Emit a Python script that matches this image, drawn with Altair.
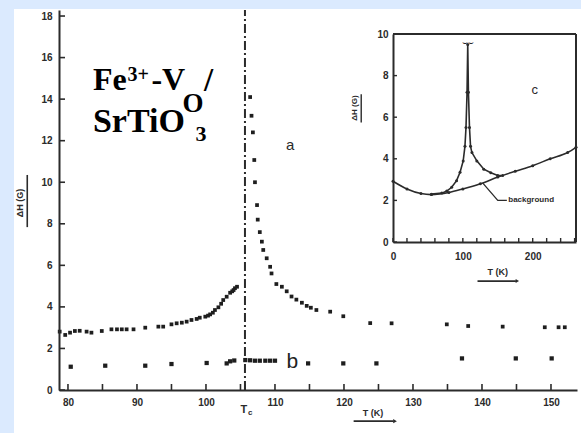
import altair as alt
import pandas as pd

# ---------------- data ----------------
TC = 105.65
# series a (main)
a_T = [78.8, 79.6, 80.3, 81.0, 81.7, 82.7, 83.4, 84.9, 86.3, 87.1, 87.8, 88.5, 89.5, 91.2,
       93.1, 93.8, 95.0, 95.75, 96.5, 97.2, 97.9, 98.65, 99.1, 99.9, 100.3, 100.6, 101.0,
       101.3, 101.8, 102.2, 102.5, 103.0, 103.5, 103.8, 104.0, 104.2, 104.5,
       106.4, 106.6, 106.8, 107.0, 107.1, 107.4, 107.5, 107.8, 108.1, 108.3, 108.8, 109.3,
       109.5, 110.2, 111.0, 111.7, 112.4, 113.1, 113.9, 114.6, 115.2, 116.0, 118.0, 119.9,
       123.8, 126.9, 134.9, 138.0, 143.0, 149.1, 151.1, 152.0]
a_G = [2.81, 2.65, 2.76, 2.84, 2.85, 2.81, 2.76, 2.84, 2.92, 2.92, 2.92, 2.92, 2.92, 3.0,
       3.05, 3.05, 3.16, 3.21, 3.24, 3.29, 3.37, 3.42, 3.48, 3.53, 3.58, 3.64, 3.72,
       3.85, 3.98, 4.15, 4.33, 4.49, 4.68, 4.75, 4.81, 4.9, 4.97,
       14.1, 13.2, 12.4, 11.07, 10.0, 8.9, 8.2, 7.6, 7.14, 6.74, 6.34, 5.93,
       5.61, 5.1, 4.97, 4.75, 4.5, 4.35, 4.2, 4.05, 3.96, 3.85, 3.77, 3.55,
       3.22, 3.21, 3.16, 3.08, 3.05, 3.02, 3.02, 3.02]
# series b (main)
b_T = [80.4, 85.4, 91.2, 95.0, 100.1, 103.0, 103.5, 104.1, 105.7, 106.4, 107.1, 107.8,
       108.6, 109.3, 110.0, 114.8, 119.9, 124.7, 137.1, 144.9, 150.1]
b_G = [1.12, 1.17, 1.17, 1.25, 1.30, 1.28, 1.38, 1.42, 1.44, 1.43, 1.41, 1.41,
       1.41, 1.41, 1.41, 1.28, 1.28, 1.28, 1.52, 1.52, 1.52]
# inset c: background and peak curve
bg_T = [0, 20, 40, 55, 80, 100, 125, 150, 175, 200, 225, 250, 262]
bg_G = [2.92, 2.55, 2.33, 2.28, 2.38, 2.55, 2.8, 3.12, 3.4, 3.67, 4.0, 4.3, 4.55]
pk_T = [55, 70, 77, 84, 91, 96, 100.5, 103, 104.5, 106, 107, 108, 109.5, 111, 113, 120,
        130, 140, 150, 157]
pk_G = [2.3, 2.35, 2.45, 2.63, 2.95, 3.35, 3.9, 4.6, 5.5, 7.2, 9.5, 7.2, 5.5, 4.6, 4.3, 3.9,
        3.5, 3.33, 3.2, 3.2]

# ticks / labels
main_xticks = list(range(80, 155, 5)) + [TC]
main_xlabels = [80, 90, 100, 110, 120, 130, 140, 150]
main_yticks = list(range(0, 19, 2))
in_xticks = list(range(0, 261, 20))
in_xlabels = [0, 100, 200]
in_yticks = [0, 2, 4, 6, 8, 10]

# ---------------- styling ----------------
FONT = "Liberation Sans"
SERIF = "Liberation Serif"
INK = "#2b2b2b"
W, H = 518, 380

xs = alt.Scale(domain=[78.7, 153.77], nice=False, zero=False)
ys = alt.Scale(domain=[0, 18.29], nice=False, zero=False)
ixs = alt.Scale(domain=[0, 262], range=[334, 517], nice=False, zero=False)
iys = alt.Scale(domain=[0, 10], range=[232, 24], nice=False, zero=False)


def ax(values, orient, pad, offset=0):
    return alt.Axis(values=values, orient=orient, offset=offset, domain=True,
                    domainColor=INK, domainWidth=2, ticks=False, tickSize=0,
                    labelPadding=pad, labelFont=FONT, labelFontSize=10,
                    labelFontWeight="bold", labelColor=INK, labelFlush=False,
                    labelOverlap=False, grid=False, title=None, format="d", zindex=2)


AX_X = ax(main_xlabels, "bottom", 7)
AX_Y = ax(main_yticks, "left", 7)
AX_IX = ax(in_xlabels, "bottom", 9, offset=-(H - 232))
AX_IY = ax(in_yticks, "left", 5, offset=-334)


def X(field="T"):
    return alt.X(f"{field}:Q", scale=xs, axis=AX_X)


def Y(field="G"):
    return alt.Y(f"{field}:Q", scale=ys, axis=AX_Y)


def IX(field="T"):
    return alt.X(f"{field}:Q", scale=ixs, axis=AX_IX)


def IY(field="G"):
    return alt.Y(f"{field}:Q", scale=iys, axis=AX_IY)


def txt(text, T, G, size, font=FONT, weight="bold", angle=0, align="left",
        baseline="alphabetic", color=INK, inset=False, dx=0, dy=0):
    d = pd.DataFrame({"T": [T], "G": [G], "s": [text]})
    m = alt.Chart(d).mark_text(font=font, fontSize=size, fontWeight=weight, angle=angle,
                               align=align, baseline=baseline, color=color, dx=dx, dy=dy)
    if inset:
        return m.encode(x=IX(), y=IY(), text="s:N")
    return m.encode(x=X(), y=Y(), text="s:N")


dfa = pd.DataFrame({"T": a_T, "G": a_G})
dfb = pd.DataFrame({"T": b_T, "G": b_G})
dfbg = pd.DataFrame({"T": bg_T, "G": bg_G})
dfpk = pd.DataFrame({"T": pk_T, "G": pk_G})

# ---------------- main panel ----------------
white = alt.Chart(pd.DataFrame({"k": [0]})).mark_rect(color="white").encode(
    x=alt.value(-45), x2=alt.value(W + 10), y=alt.value(-1), y2=alt.value(H + 50))

xt = alt.Chart(pd.DataFrame({"T": main_xticks})).mark_rule(color=INK, strokeWidth=1.6).encode(
    x=X(), y=alt.value(H), y2=alt.value(H - 6))
yt = alt.Chart(pd.DataFrame({"G": main_yticks})).mark_rule(color=INK, strokeWidth=1.6).encode(
    y=Y(), x=alt.value(0), x2=alt.value(6))

tc_line = alt.Chart(pd.DataFrame({"T": [TC], "G0": [0.0], "G1": [18.29]})).mark_rule(
    color=INK, strokeWidth=2, strokeDash=[9, 3, 2, 3]).encode(x=X(), y=Y("G0"), y2="G1:Q")

pts_a = alt.Chart(dfa).mark_point(shape="square", filled=True, size=14, color="#1e1e1e",
                                  opacity=1).encode(x=X(), y=Y())
pts_b = alt.Chart(dfb).mark_point(shape="square", filled=True, size=18, color="#1e1e1e",
                                  opacity=1).encode(x=X(), y=Y())

# title of y axis with its underline
ytitle = txt("ΔH (G)", 73.04, 9.0, 9, angle=270, align="center", baseline="middle")
yunder = alt.Chart(pd.DataFrame({"T": [74.1], "G0": [7.84], "G1": [10.35]})).mark_rule(
    color=INK, strokeWidth=1.6).encode(x=X(), y=Y("G0"), y2="G1:Q")

# x-axis title with arrow
xtitle = txt("T (K)", 124.2, -1.1, 9, align="center", baseline="middle")
xarrow = alt.Chart(pd.DataFrame({"T0": [121.4], "T1": [127.2], "G": [-1.5]})).mark_rule(
    color=INK, strokeWidth=1.8).encode(x=X("T0"), x2="T1:Q", y=Y())
xhead = alt.Chart(pd.DataFrame({"T": [127.4], "G": [-1.5]})).mark_point(
    shape="triangle-right", filled=True, size=18, color=INK, opacity=1).encode(x=X(), y=Y())

tc_T = txt("T", TC, -0.96, 11, align="center", baseline="middle", dx=-1)
tc_c = txt("c", TC, -1.12, 8, align="left", baseline="middle", dx=3)

lab_a = txt("a", 112.2, 11.8, 15, align="center", baseline="middle", weight="normal")
lab_b = txt("b", 112.5, 1.35, 21, align="center", baseline="middle", weight="normal",
            color="#222")

# Fe3+-VO / SrTiO3 label
title_parts = [
    txt("Fe", 83.62, 14.44, 32, font=SERIF, color="black"),
    txt("3+", 88.62, 14.86, 20, font=SERIF, color="black"),
    txt("-V", 92.1, 14.44, 32, font=SERIF, color="black"),
    txt("O", 96.6, 13.38, 27, font=SERIF, color="black"),
    txt("/", 99.7, 14.4, 33, font=SERIF, color="black"),
    txt("SrTiO", 83.62, 12.42, 34, font=SERIF, color="black"),
    txt("3", 98.5, 12.0, 22, font=SERIF, color="black"),
]

main = alt.layer(white, xt, yt, tc_line, pts_a, pts_b, ytitle, yunder, xtitle,
                 xarrow, xhead, tc_T, tc_c, lab_a, lab_b, *title_parts)

# ---------------- inset panel ----------------
ixt = alt.Chart(pd.DataFrame({"T": in_xticks})).mark_rule(color=INK, strokeWidth=1.4).encode(
    x=IX(), y=alt.value(232), y2=alt.value(228))
iyt = alt.Chart(pd.DataFrame({"G": in_yticks})).mark_rule(color=INK, strokeWidth=1.4).encode(
    y=IY(), x=alt.value(334), x2=alt.value(338))

frame_top = alt.Chart(pd.DataFrame({"T0": [0], "T1": [262], "G": [10]})).mark_rule(
    color=INK, strokeWidth=2).encode(x=IX("T0"), x2="T1:Q", y=IY())
frame_right = alt.Chart(pd.DataFrame({"T": [262], "G0": [0], "G1": [10]})).mark_rule(
    color=INK, strokeWidth=2).encode(x=IX(), y=IY("G0"), y2="G1:Q")

bg_line = alt.Chart(dfbg).mark_line(color=INK, strokeWidth=1.6, interpolate="monotone").encode(
    x=IX(), y=IY(), order="T:Q")
bg_pts = alt.Chart(dfbg).mark_point(filled=True, size=9, color=INK, opacity=1).encode(
    x=IX(), y=IY())
pk_line = alt.Chart(dfpk).mark_line(color=INK, strokeWidth=1.6).encode(
    x=IX(), y=IY(), order="T:Q")
pk_pts = alt.Chart(dfpk).mark_point(filled=True, size=9, color=INK, opacity=1).encode(
    x=IX(), y=IY())

lead = alt.Chart(pd.DataFrame({"T": [128.6, 150.0, 163.0], "G": [2.83, 2.0, 2.0]})).mark_line(
    color=INK, strokeWidth=1.3).encode(x=IX(), y=IY(), order="T:Q")
lab_bg = txt("background", 165.0, 2.0, 8, baseline="middle", inset=True)
lab_c = txt("c", 203.0, 7.3, 13, align="center", baseline="middle", weight="normal",
            inset=True)
peak_cap = txt("⌣⌣", 107.0, 9.62, 9, font="DejaVu Sans", align="center", baseline="middle",
               weight="normal", inset=True)

iytitle = txt("ΔH (G)", -54.4, 6.44, 8, angle=270, align="center", baseline="middle",
              inset=True)
iyunder = alt.Chart(pd.DataFrame({"T": [-45.5], "G0": [5.75], "G1": [7.1]})).mark_rule(
    color=INK, strokeWidth=1.4).encode(x=IX(), y=IY("G0"), y2="G1:Q")
ixtitle = txt("T (K)", 150.0, -1.42, 9, align="center", baseline="middle", inset=True)
ixarrow = alt.Chart(pd.DataFrame({"T0": [121.0], "T1": [176.0], "G": [-1.88]})).mark_rule(
    color=INK, strokeWidth=1.8).encode(x=IX("T0"), x2="T1:Q", y=IY())
ixhead = alt.Chart(pd.DataFrame({"T": [178.0], "G": [-1.88]})).mark_point(
    shape="triangle-right", filled=True, size=16, color=INK, opacity=1).encode(x=IX(), y=IY())

inset = alt.layer(ixt, iyt, frame_top, frame_right, bg_line, bg_pts, pk_line, pk_pts,
                  lead, lab_bg, lab_c, peak_cap, iytitle, iyunder, ixtitle, ixarrow, ixhead)

chart = alt.layer(main, inset).resolve_scale(x="independent", y="independent").properties(
    width=W, height=H,
    padding={"left": 59, "top": 10, "right": 4, "bottom": 43},
    autosize=alt.AutoSizeParams(type="none"),
).configure(background="#dbeafe").configure_view(stroke=None)

chart.save("out.html", embed_options={"renderer": "svg", "actions": False})
